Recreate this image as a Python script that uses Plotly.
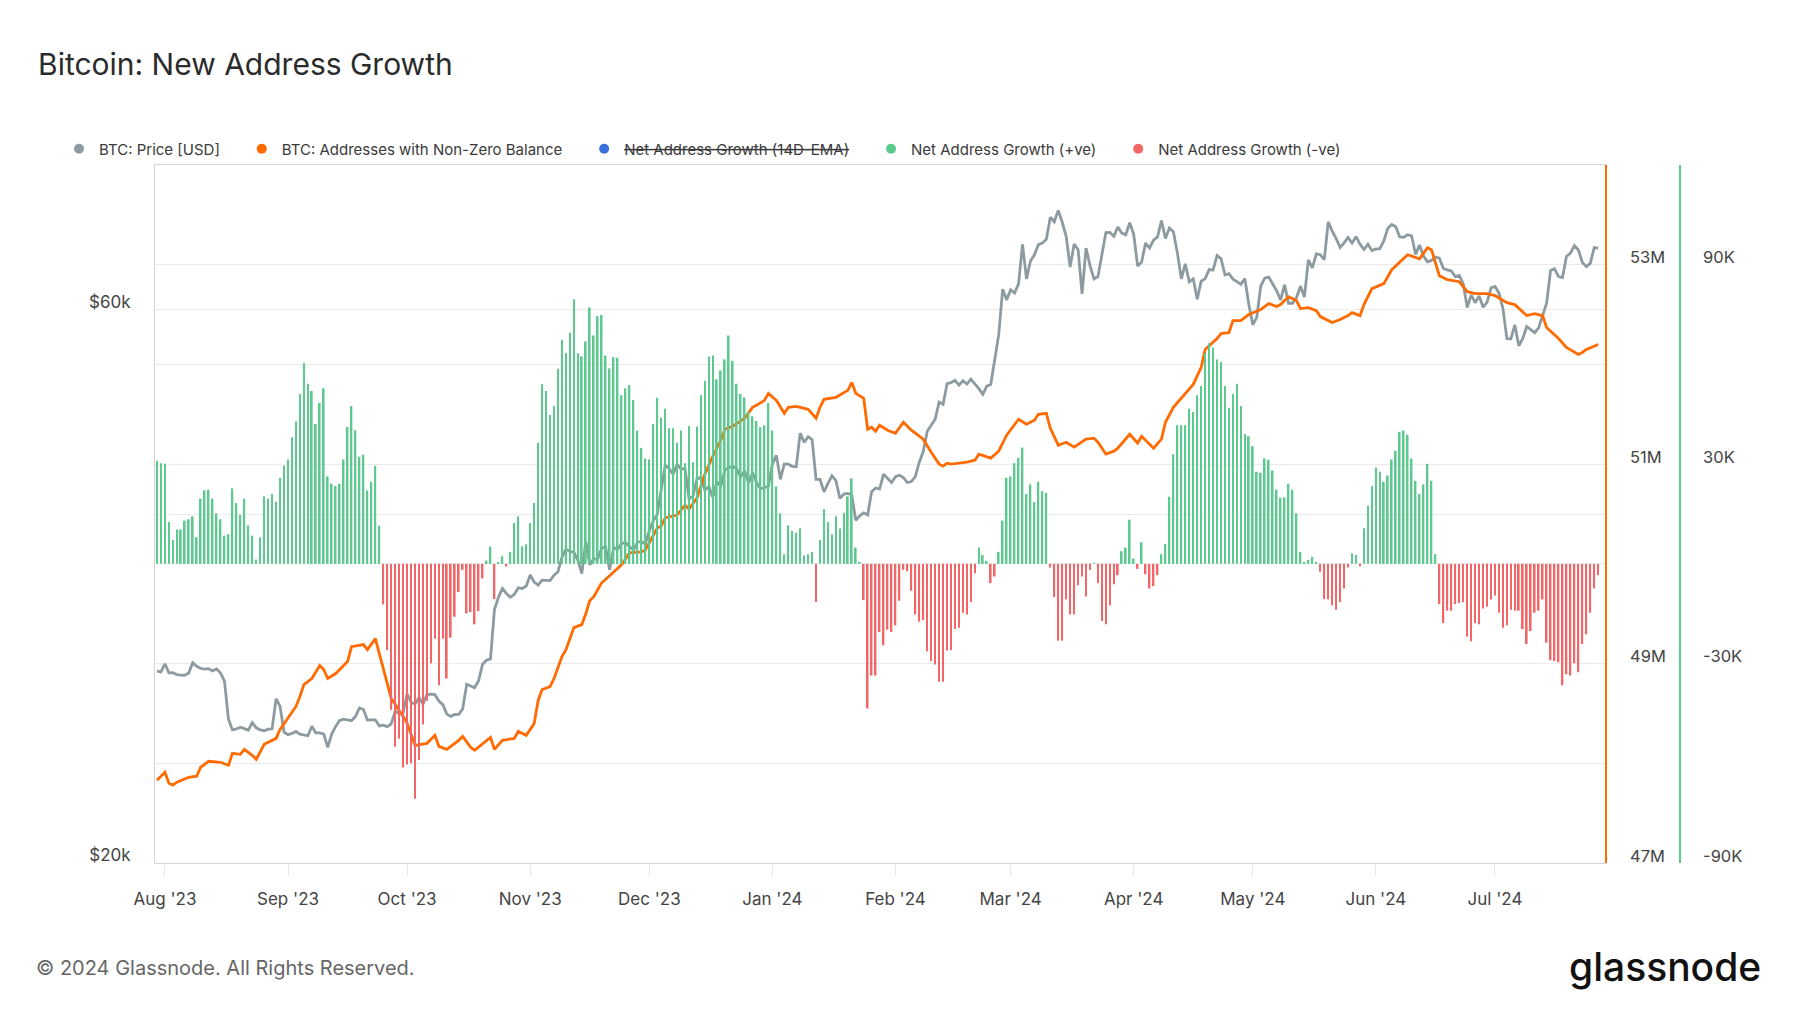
import pandas as pd
import plotly.graph_objects as go

# ---------------- DATA ----------------
start_date = "2023-07-30"

# BTC price [USD], daily from 2023-07-30 to 2024-07-27
price_jul23 = [29280, 29230]
price_aug23 = [29700, 29180, 29190, 29080, 29050, 29040, 29170, 29770, 29560, 29430, 29400, 29420, 29290, 29410, 29170,
               28700, 26620, 26050, 26100, 26190, 26120, 26040, 26430, 26160, 26050, 26010, 26090, 26110, 27720, 27300, 25930]
price_sep23 = [25800, 25870, 25970, 25830, 25780, 25750, 26240, 25900, 25900, 25840, 25160, 25840, 26230, 26540, 26610,
               26570, 26530, 26760, 27210, 27130, 26570, 26580, 26580, 26260, 26300, 26220, 26370, 27030, 26910, 26970]
price_oct23 = [27990, 27510, 27430, 27790, 27420, 27950, 27970, 27940, 27590, 27390, 26880, 26760, 26860, 26870, 27160,
               28520, 28420, 28330, 28720, 29680, 29920, 30000, 33090, 33900, 34500, 34160, 33910, 34090, 34540, 34500, 34670]
price_nov23 = [35440, 34940, 34730, 35080, 35050, 35040, 35420, 35660, 36700, 37310, 37130, 37070, 36500, 35540, 37880,
               36160, 36600, 36580, 37380, 37480, 35810, 37430, 37290, 37720, 37800, 37480, 37250, 37830, 37860, 37710]
price_dec23 = [38690, 39470, 39970, 41980, 44080, 43770, 43290, 44170, 43720, 43790, 41240, 41450, 42890, 43020, 41930,
               42240, 41360, 42660, 42260, 43650, 43860, 43990, 43740, 43020, 43610, 42520, 43440, 42580, 42070, 42140, 42280]
price_jan24 = [44180, 44940, 42850, 44180, 44160, 43970, 43930, 46970, 46120, 46630, 46370, 42850, 42840, 41800, 42510,
               43150, 42740, 41260, 41620, 41670, 41540, 39510, 39850, 40080, 39930, 41820, 42120, 42030, 43300, 42940, 42580]
price_feb24 = [43080, 43190, 43000, 42580, 42660, 43090, 44340, 45290, 47150, 47770, 48290, 49960, 49730, 51830, 51930,
               52160, 51660, 52120, 51780, 52280, 51840, 51300, 50740, 51570, 51730, 54520, 57090, 62500, 61200]
price_mar24 = [62440, 62030, 63170, 68330, 63800, 66110, 66930, 68300, 68500, 69020, 72120, 71480, 73100, 71400, 69400,
               65320, 68390, 67610, 61930, 67840, 65500, 63800, 64100, 67230, 69960, 69990, 69450, 70740, 69890, 69650, 71330]
price_apr24 = [69700, 65450, 65980, 68510, 67840, 68900, 69360, 71630, 69140, 70590, 70060, 67200, 63820, 65740, 63430,
               63810, 61280, 63510, 63840, 64990, 64930, 66840, 66410, 64300, 64480, 63770, 63460, 63110, 63840, 60640]
price_may24 = [58250, 59120, 62890, 63890, 64030, 63160, 62330, 61190, 63050, 60790, 60790, 61450, 62900, 61550, 66270,
               65230, 67050, 66940, 66280, 71450, 70140, 69120, 67930, 68530, 69290, 68510, 69390, 68360, 67640, 68350, 67490]
price_jun24 = [67710, 67750, 68800, 70550, 71080, 70760, 69340, 69310, 69650, 69510, 66990, 68240, 66750, 66010, 66190,
               66640, 66490, 65140, 64960, 64830, 64100, 64250, 63180, 60280, 61800, 60860, 61670, 60320, 60890, 62680]
price_jul24 = [62850, 62030, 60170, 56660, 56640, 58230, 55860, 56700, 58050, 57720, 57340, 57900, 59230, 60790, 64870,
               65100, 64100, 63980, 66700, 67150, 68170, 67580, 65940, 65370, 65800, 67910, 67810]

# Addresses with non-zero balance [millions], read at day offsets from start_date
addr_day = [0, 2, 3, 4, 5, 8, 10, 11, 13, 16, 18, 19, 21, 22, 24, 25, 27, 30, 31, 33, 35, 36, 37, 39, 41, 42, 43, 45,
            48, 49, 52, 53, 55, 56, 57, 59, 62, 63, 65, 68, 70, 71, 73, 76, 77, 79, 80, 84, 85, 87, 90, 91, 93, 95,
            96, 97, 99, 100, 102, 103, 105, 107, 108, 109, 110, 112, 114, 117, 119, 122, 123, 125, 126, 127, 128, 131,
            133, 134, 136, 138, 140, 142, 143, 145, 148, 150, 151, 153, 154, 156, 158, 159, 161, 164, 166, 167, 168,
            171, 174, 175, 176, 178, 179, 180, 181, 182, 184, 186, 188, 190, 193, 195, 197, 198, 199, 200, 204, 206,
            207, 210, 212, 214, 216, 217, 219, 221, 222, 224, 225, 227, 229, 231, 234, 236, 237, 239, 241, 242, 245,
            247, 248, 251, 253, 254, 256, 258, 261, 263, 264, 267, 268, 270, 271, 273, 275, 278, 280, 282, 283, 285,
            287, 288, 290, 292, 293, 296, 298, 300, 301, 303, 304, 306, 309, 311, 314, 315, 318, 319, 320, 321, 322,
            323, 325, 328, 330, 332, 335, 337, 340, 342, 345, 347, 349, 350, 353, 355, 358, 359, 360, 363]
addr_millions = [47.83, 47.91, 47.80, 47.78, 47.81, 47.86, 47.87, 47.96, 48.02, 48.01, 47.98, 48.10, 48.09, 48.14,
                 48.08, 48.04, 48.19, 48.25, 48.34, 48.45, 48.57, 48.67, 48.79, 48.85, 48.98, 48.94, 48.85, 48.90,
                 49.02, 49.17, 49.19, 49.14, 49.25, 49.10, 48.94, 48.65, 48.47, 48.40, 48.18, 48.20, 48.28, 48.17,
                 48.14, 48.23, 48.27, 48.16, 48.13, 48.26, 48.14, 48.23, 48.25, 48.32, 48.28, 48.40, 48.63, 48.74,
                 48.77, 48.85, 49.07, 49.14, 49.36, 49.39, 49.50, 49.63, 49.67, 49.81, 49.88, 49.99, 50.11, 50.12,
                 50.14, 50.28, 50.36, 50.38, 50.46, 50.49, 50.59, 50.55, 50.66, 50.90, 51.08, 51.24, 51.35, 51.38,
                 51.46, 51.57, 51.59, 51.64, 51.71, 51.64, 51.51, 51.57, 51.58, 51.55, 51.46, 51.57, 51.65, 51.67,
                 51.74, 51.82, 51.71, 51.66, 51.35, 51.37, 51.33, 51.39, 51.34, 51.31, 51.42, 51.34, 51.25, 51.12,
                 51.00, 50.98, 51.01, 51.00, 51.02, 51.04, 51.10, 51.06, 51.13, 51.29, 51.39, 51.45, 51.40, 51.44,
                 51.50, 51.51, 51.36, 51.19, 51.22, 51.17, 51.25, 51.26, 51.22, 51.10, 51.13, 51.16, 51.30, 51.21,
                 51.28, 51.16, 51.25, 51.42, 51.57, 51.66, 51.80, 51.97, 52.15, 52.26, 52.31, 52.32, 52.44, 52.44,
                 52.50, 52.55, 52.61, 52.58, 52.60, 52.68, 52.64, 52.56, 52.57, 52.54, 52.48, 52.42, 52.45, 52.49,
                 52.52, 52.49, 52.60, 52.76, 52.81, 52.95, 53.07, 53.10, 53.06, 53.11, 53.17, 53.15, 53.01, 52.89,
                 52.85, 52.83, 52.73, 52.71, 52.71, 52.69, 52.62, 52.60, 52.49, 52.51, 52.49, 52.37, 52.26, 52.17,
                 52.10, 52.12, 52.15, 52.20]

# Net address growth [thousands], daily from start_date
growth_jul_sep = [31.0, 30.3, 30.1, 12.6, 7.2, 10.3, 10.3, 13.0, 13.4, 14.3, 8.0, 19.6, 22.1, 22.3, 19.6, 15.2, 13.4,
                  8.5, 8.9, 22.7, 18.3, 14.7, 19.6, 11.6, 8.5, 1.3, 8.0, 20.3, 19.6, 21.0, 18.7, 25.9, 29.6, 31.4,
                  38.1, 42.9, 51.1, 60.4, 54.2, 52.0, 42.1, 48.4, 52.8, 26.3, 24.1, 23.4, 24.1, 31.4, 41.2, 47.5,
                  40.2, 32.2, 32.8, 22.1, 24.7, 29.5, 11.5]
growth_sep_oct = [-12.2, -25.9, -43.9, -55.0, -52.6, -61.3, -60.4, -60.0, -70.7, -59.0, -48.3, -41.2, -29.9, -22.5,
                  -36.5, -22.5, -34.5, -22.2, -15.9, -8.5, -1.8, -14.9, -14.5, -18.2, -14.2, -4.4,
                  1.0, 5.2, -10.6, 0.5, 2.3, -0.8, 3.6, 12.3, 14.3, 5.3]
growth_nov_jan = [5.9, 12.3, 18.3, 36.4, 54.0, 52.0, 44.8, 47.5, 58.7, 67.4, 63.4, 69.5, 79.6, 63.4, 62.4, 66.9, 77.1,
                  68.7, 74.5, 74.9, 62.7, 58.8, 62.2, 62.0, 50.7, 52.8, 53.8, 49.3, 40.1, 34.9, 31.7, 31.4, 42.1,
                  50.0, 44.0, 46.7, 40.8, 40.8, 36.4, 40.1, 30.3, 41.5, 30.6, 41.3, 50.7, 55.1, 62.4, 62.7, 55.5,
                  58.2, 61.5, 68.7, 61.1, 54.2, 51.1, 50.1, 45.7, 44.4, 43.0, 41.1, 41.7, 48.4, 40.1, 23.3, 15.2,
                  2.9, 11.6, 9.9, 9.4, 10.7, 2.5, 2.9, 3.6, -11.5, 7.2, 16.5, 12.6, 8.9, 14.3, 10.6, 15.4, 20.3,
                  25.7, 4.9, 0.6, -10.9, -43.5, -33.6, -33.6, -20.5, -24.5]
growth_feb_may = [-19.8, -20.5, -18.5, -11.1, -1.8, -2.2, -8.1, -15.2, -17.4, -16.9, -26.3, -29.2, -30.3, -35.5, -35.5,
                  -26.1, -25.9, -19.6, -19.2, -14.7, -15.2, -11.5, -2.8, 4.9, 2.7, 0.9, -5.8, -3.8, 3.6, 13.0, 25.9,
                  26.3, 30.3, 31.9, 35.0, 21.0, 23.9, 18.6, 24.7, 21.9, 21.4, -1.1, -10.0, -23.1, -23.1, -10.7,
                  -15.2, -15.2, -6.4, -3.8, -9.8, -1.8, 0.2, -5.8, -17.2, -18.2, -12.5, -6.1, -3.4, 3.8, 4.9, 13.3,
                  1.6, -1.5, 6.5, -3.1, -7.4, -6.7, -3.4, 2.9, 6.0, 20.2, 33.0, 41.7, 41.7, 41.7, 46.7, 45.7, 50.7,
                  53.5, 63.4, 66.4, 65.1, 61.5, 60.7, 53.5, 47.0, 51.1, 54.2, 47.5, 39.1, 38.4, 35.4, 27.7]
growth_may_jul = [27.4, 31.7, 31.3, 28.1, 22.3, 19.9, 20.0, 24.1, 22.3, 15.2, 3.6, 0.3, 1.2, 2.1, 0.6, -2.4, -10.6,
                  -10.7, -12.5, -13.8, -11.5, -7.4, -1.1, 3.2, 2.7, -0.7, 10.7, 17.5, 23.4, 29.0, 27.7, 24.7, 26.6,
                  31.4, 34.0, 39.7, 40.1, 38.8, 31.7, 25.0, 21.0, 23.9, 30.1, 25.0, 2.9, -12.1, -17.8, -14.1, -14.1,
                  -12.1, -11.8, -11.5, -21.9, -23.3, -17.8, -18.2, -13.4, -12.9, -10.7, -9.5, -14.7, -19.2, -18.5,
                  -13.8, -14.1, -14.1, -19.6, -24.1, -20.2, -14.7, -14.1, -10.7, -23.7, -29.0, -29.2, -29.6, -36.5,
                  -33.2, -33.6, -29.9, -32.6, -24.1, -21.2, -14.7, -7.4, -3.4]

price_ticks = [20000, 40000, 60000]
price_ticktext = ["$20k", "", "$60k"]
addr_ticks = [47e6, 48e6, 49e6, 50e6, 51e6, 52e6, 53e6]
addr_ticktext = ["47M", "", "49M", "", "51M", "", "53M"]
growth_ticks = [-90000, -30000, 30000, 90000]
growth_ticktext = ["-90K", "-30K", "30K", "90K"]

legend_names = ["BTC: Price [USD]", "BTC: Addresses with Non-Zero Balance",
                "<s>Net Address Growth (14D-EMA)</s>", "Net Address Growth (+ve)", "Net Address Growth (-ve)"]

# ---------------- STYLE ----------------
C_PRICE = "#8d9ba1"
C_ADDR = "#ff6b00"
C_EMA = "#3b6fe0"
C_POS = "#5cc98f"
C_NEG = "#f26668"
GRID = "#ebebeb"
FONT = "Inter"

OFF = 8                      # page body margin
W, H = 1800 - OFF, 1013 - OFF
ML, MT = 155 - OFF, 165 - OFF
MR = W - (1720 - OFF)
MB = H - (863 - OFF)
PW = W - ML - MR
PH = H - MT - MB


def fx(px):
    return (px - OFF - ML) / PW


def fy(py):
    return (H - MB - (py - OFF)) / PH


price = (price_jul23 + price_aug23 + price_sep23 + price_oct23 + price_nov23 + price_dec23 + price_jan24 +
         price_feb24 + price_mar24 + price_apr24 + price_may24 + price_jun24 + price_jul24)
price_dates = pd.date_range(start_date, periods=len(price), freq="D")

growth_k = growth_jul_sep + growth_sep_oct + growth_nov_jan + growth_feb_may + growth_may_jul
growth_dates = pd.date_range(start_date, periods=len(growth_k), freq="D")
pos_x = [d for d, v in zip(growth_dates, growth_k) if v >= 0]
pos_y = [v * 1000 for v in growth_k if v >= 0]
neg_x = [d for d, v in zip(growth_dates, growth_k) if v < 0]
neg_y = [v * 1000 for v in growth_k if v < 0]

addr_dates = [pd.Timestamp(start_date) + pd.Timedelta(days=d) for d in addr_day]
addr_vals = [v * 1e6 for v in addr_millions]

fig = go.Figure()

# legend entries (dots)
legend_colors = [C_PRICE, C_ADDR, C_EMA, C_POS, C_NEG]
pad = "\u00a0" * 4
for name, col in zip(legend_names, legend_colors):
    fig.add_trace(go.Scatter(x=[None], y=[None], mode="markers", name=name + pad,
                             marker=dict(color=col, size=10), yaxis="y", hoverinfo="skip"))

fig.add_trace(go.Scatter(x=price_dates, y=price, mode="lines", name="BTC: Price [USD]",
                         line=dict(color=C_PRICE, width=2.8), yaxis="y", showlegend=False))
fig.add_trace(go.Scatter(x=addr_dates, y=addr_vals, mode="lines", name="BTC: Addresses with Non-Zero Balance",
                         line=dict(color=C_ADDR, width=2.8), yaxis="y2", showlegend=False))
bar_w = 0.42 * 86400000
fig.add_trace(go.Bar(x=pos_x, y=pos_y, name="Net Address Growth (+ve)", marker=dict(color=C_POS, line_width=0),
                     width=bar_w, yaxis="y3", showlegend=False))
fig.add_trace(go.Bar(x=neg_x, y=neg_y, name="Net Address Growth (-ve)", marker=dict(color=C_NEG, line_width=0),
                     width=bar_w, yaxis="y3", showlegend=False))

xtickfont = dict(family=FONT, size=17, color="#444444")
ytickfont = dict(family=FONT, size=17, color="#444444")
rtickfont = dict(family=FONT, size=16.5, color="#444444")

fig.update_layout(
    width=W, height=H,
    margin=dict(l=ML, r=MR, t=MT, b=MB),
    paper_bgcolor="white", plot_bgcolor="white",
    font=dict(family=FONT, color="#333333"),
    barmode="overlay",
    title=dict(text="Bitcoin: New Address Growth", x=(38 - OFF) / W, xref="container", xanchor="left",
               y=1 - (64 - OFF) / H, yref="container", yanchor="middle",
               font=dict(family=FONT, size=30, color="#2b2b2b")),
    legend=dict(orientation="h", x=fx(59), y=fy(149), xanchor="left", yanchor="middle",
                font=dict(family=FONT, size=15, color="#3a3a3a"), bgcolor="rgba(0,0,0,0)",
                itemclick=False, itemdoubleclick=False),
    xaxis=dict(type="date", domain=[0, fx(1605)],
               range=["2023-07-29 12:00", "2024-07-28 17:00"],
               tick0="2023-08-01", dtick="M1", tickformat="%b '%y",
               showgrid=False, zeroline=False,
               showline=True, linecolor="#d4d4d4", linewidth=1, mirror=True,
               ticks="outside", ticklen=12, tickcolor="#e6e6e6", tickwidth=1,
               ticklabelstandoff=9, tickfont=xtickfont),
    yaxis=dict(type="log", range=[4.30103, 4.90309], tickvals=price_ticks, ticktext=price_ticktext,
               showgrid=True, gridcolor=GRID, gridwidth=1, zeroline=False,
               showline=True, linecolor="#d4d4d4", linewidth=1,
               ticks="", ticklabelstandoff=20, ticklabelshift=-8, tickfont=ytickfont),
    yaxis2=dict(overlaying="y", side="right", anchor="x", range=[47e6, 54e6],
                tickvals=addr_ticks, ticktext=addr_ticktext,
                showgrid=True, gridcolor=GRID, gridwidth=1, zeroline=False,
                showline=True, linecolor=C_ADDR, linewidth=1.5,
                ticks="", ticklabelstandoff=20, ticklabelshift=-7, tickfont=rtickfont),
    yaxis3=dict(overlaying="y", side="right", anchor="free", position=fx(1680), range=[-90000, 120000],
                tickvals=growth_ticks, ticktext=growth_ticktext,
                showgrid=False, zeroline=False,
                showline=True, linecolor=C_POS, linewidth=1.5,
                ticks="", ticklabelstandoff=19, ticklabelshift=-7, tickfont=rtickfont),
    annotations=[
        dict(text="© 2024 Glassnode. All Rights Reserved.", xref="paper", yref="paper",
             x=fx(34), y=fy(968), xanchor="left", yanchor="middle", showarrow=False,
             font=dict(family=FONT, size=20, color="#666666")),
        dict(text="glassnode", xref="paper", yref="paper",
             x=fx(1763), y=fy(966), xanchor="right", yanchor="middle", showarrow=False,
             font=dict(family=FONT, size=39, color="#111111", weight=500)),
    ],
    hovermode="x unified",
)

fig.write_html("out.html")
